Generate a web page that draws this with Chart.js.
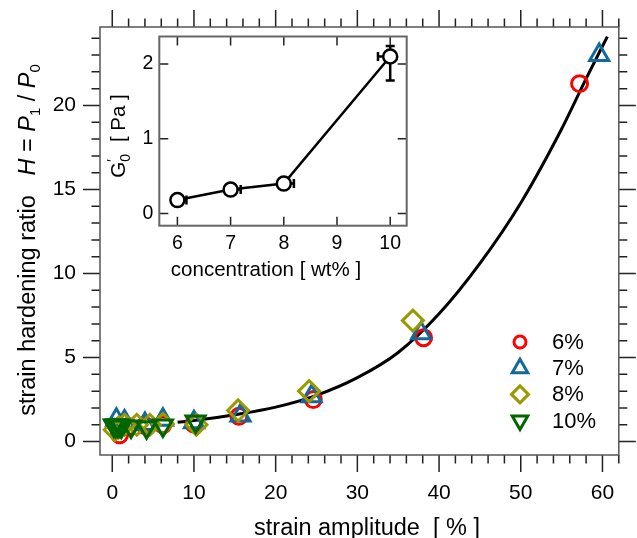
<!DOCTYPE html>
<html>
<head>
<meta charset="utf-8">
<script src="https://cdn.jsdelivr.net/npm/chart.js@4.4.1/dist/chart.umd.min.js"></script>
<style>
  body { margin: 0; background: #fff; }
  #wrap { position: relative; width: 637px; height: 538px; }
  #main { position: absolute; left: 0; top: 0; }
  #inset { position: absolute; left: 100px; top: 27px; }
</style>
</head>
<body>
<div id="wrap">
  <canvas id="main" width="637" height="538"></canvas>
  <canvas id="inset" width="320" height="260"></canvas>
</div>
<script>
// main plot: strain amplitude [%] vs strain hardening ratio
const xTickLabels = [0, 10, 20, 30, 40, 50, 60];
const yTickLabels = [0, 5, 10, 15, 20];
const seriesNames = ['6%', '7%', '8%', '10%'];

const strain6 = [0.9, 2.0, 4.0, 6.2, 10.0, 15.5, 24.6, 38.1, 57.2];
const ratio6 = [0.4, 0.9, 0.95, 1.0, 1.05, 1.5, 2.5, 6.18, 21.3];
const strain7 = [0.5, 1.5, 4.0, 6.2, 10.0, 15.7, 24.4, 37.8, 59.6];
const ratio7 = [1.3, 1.2, 1.05, 1.3, 1.15, 1.55, 2.7, 6.45, 23.0];
const strain8 = [0.3, 0.8, 1.5, 3.0, 4.6, 6.2, 10.3, 15.4, 24.1, 36.8];
const ratio8 = [0.7, 0.85, 1.0, 1.0, 1.0, 1.05, 1.0, 1.85, 3.0, 7.2];
const strain10 = [0.2, 0.4, 0.6, 0.8, 1.1, 2.3, 4.2, 6.2, 10.2];
const ratio10 = [0.95, 0.95, 0.95, 0.95, 0.9, 0.9, 0.85, 0.95, 1.2];

// fitted curve
const fitStrain = [8, 10, 15, 20, 25, 30, 35, 40, 45, 50, 55, 58, 60.6];
const fitRatio = [1.15, 1.25, 1.6, 2.05, 2.75, 3.8, 5.3, 7.6, 10.6, 14.2, 18.6, 21.6, 24.1];

// inset: G'0 vs concentration
const concentration = [6, 7, 8, 10];
const modulus = [0.18, 0.32, 0.40, 2.1];
const concErrPlus = [0.17, 0.19, 0.19, 0];
const concErrMinus = [0, 0, 0, 0.23];
const modErrPlus = [0, 0, 0, 0.14];
const modErrMinus = [0, 0, 0, 0.32];
const insetXTicks = [6, 7, 8, 9, 10];
const insetYTicks = [0, 1, 2];

const FONT = '"Liberation Sans", Arial, sans-serif';

function pairs(xs, ys) {
  return xs.map((x, i) => ({ x: x, y: ys[i] }));
}

// draw a line of text made of parts (italic, subscript...) centred on cx,cy
function drawRich(ctx, parts, cx, cy, rot) {
  ctx.save();
  ctx.translate(cx, cy);
  ctx.rotate(rot);
  ctx.fillStyle = '#000';
  ctx.textBaseline = 'alphabetic';
  ctx.textAlign = 'left';
  const fontOf = p => (p.italic ? 'italic ' : '') + p.size + 'px ' + FONT;
  let w = 0;
  parts.forEach(p => {
    ctx.font = fontOf(p);
    if (!p.stack) w += ctx.measureText(p.t).width;
  });
  let x = -w / 2;
  let last = 0;
  parts.forEach(p => {
    ctx.font = fontOf(p);
    const pw = ctx.measureText(p.t).width;
    if (p.stack) {
      ctx.fillText(p.t, x - last, p.dy || 0);
    } else {
      ctx.fillText(p.t, x, p.dy || 0);
      x += pw;
      last = pw;
    }
  });
  ctx.restore();
}

// box round the plot area with major and minor ticks on all four sides
const framePlugin = {
  id: 'frame',
  afterDraw(chart, args, opts) {
    const { ctx, chartArea: a, scales } = chart;
    const sx = scales.x, sy = scales.y;
    const dir = opts.inside ? -1 : 1;
    ctx.save();
    ctx.strokeStyle = opts.tickColor;
    ctx.lineWidth = opts.tickWidth;
    ctx.beginPath();
    const xt = (v, len) => {
      const p = sx.getPixelForValue(v);
      ctx.moveTo(p, a.bottom); ctx.lineTo(p, a.bottom + dir * len);
      ctx.moveTo(p, a.top); ctx.lineTo(p, a.top - dir * len);
    };
    const yt = (v, len) => {
      const p = sy.getPixelForValue(v);
      ctx.moveTo(a.left, p); ctx.lineTo(a.left - dir * len, p);
      ctx.moveTo(a.right, p); ctx.lineTo(a.right + dir * len, p);
    };
    opts.xMajor.forEach(v => xt(v, opts.majorLen));
    opts.yMajor.forEach(v => yt(v, opts.majorLen));
    if (opts.xMinorStep) {
      for (let v = Math.ceil(sx.min / opts.xMinorStep) * opts.xMinorStep; v <= sx.max + 1e-9; v += opts.xMinorStep) {
        if (!opts.xMajor.includes(Math.round(v * 100) / 100)) xt(v, opts.minorLen);
      }
    }
    if (opts.yMinorStep) {
      for (let v = Math.ceil(sy.min / opts.yMinorStep) * opts.yMinorStep; v <= sy.max + 1e-9; v += opts.yMinorStep) {
        if (!opts.yMajor.includes(Math.round(v * 100) / 100)) yt(v, opts.minorLen);
      }
    }
    ctx.stroke();
    ctx.strokeStyle = opts.frameColor;
    ctx.lineWidth = opts.frameWidth;
    ctx.strokeRect(a.left, a.top, a.right - a.left, a.bottom - a.top);
    ctx.restore();
  }
};

// axis titles
const titlePlugin = {
  id: 'titles',
  afterDraw(chart, args, opts) {
    opts.items.forEach(it => drawRich(chart.ctx, it.parts, it.x, it.y, it.rot || 0));
  }
};

// legend drawn inside the plot area
const keyPlugin = {
  id: 'key',
  afterDraw(chart, args, opts) {
    const ctx = chart.ctx;
    ctx.save();
    opts.order.forEach((di, row) => {
      const ds = chart.data.datasets[di];
      const y = opts.y + row * opts.gap;
      ctx.strokeStyle = ds.pointBorderColor;
      ctx.fillStyle = 'rgba(0,0,0,0)';
      ctx.lineWidth = ds.pointBorderWidth;
      Chart.helpers.drawPoint(ctx, {
        pointStyle: ds.pointStyle,
        rotation: ds.pointRotation || 0,
        radius: opts.radius[row],
        borderWidth: ds.pointBorderWidth
      }, opts.x, y);
      ctx.fillStyle = '#000';
      ctx.font = opts.size + 'px ' + FONT;
      ctx.textBaseline = 'middle';
      ctx.textAlign = 'left';
      ctx.fillText(ds.label, opts.textX, y + 1);
    });
    ctx.restore();
  }
};

// error bars for the inset
const errPlugin = {
  id: 'errbars',
  beforeDatasetsDraw(chart) {
    const { ctx, scales } = chart;
    const cap = 4.5;
    ctx.save();
    ctx.strokeStyle = '#000';
    ctx.lineWidth = 2.5;
    ctx.beginPath();
    concentration.forEach((c, i) => {
      const px = scales.x.getPixelForValue(c);
      const py = scales.y.getPixelForValue(modulus[i]);
      if (concErrPlus[i] || concErrMinus[i]) {
        const x1 = scales.x.getPixelForValue(c - concErrMinus[i]);
        const x2 = scales.x.getPixelForValue(c + concErrPlus[i]);
        ctx.moveTo(x1, py); ctx.lineTo(x2, py);
        if (concErrMinus[i]) { ctx.moveTo(x1, py - cap); ctx.lineTo(x1, py + cap); }
        if (concErrPlus[i]) { ctx.moveTo(x2, py - cap); ctx.lineTo(x2, py + cap); }
      }
      if (modErrPlus[i] || modErrMinus[i]) {
        const y1 = scales.y.getPixelForValue(modulus[i] - modErrMinus[i]);
        const y2 = scales.y.getPixelForValue(modulus[i] + modErrPlus[i]);
        ctx.moveTo(px, y1); ctx.lineTo(px, y2);
        if (modErrMinus[i]) { ctx.moveTo(px - cap, y1); ctx.lineTo(px + cap, y1); }
        if (modErrPlus[i]) { ctx.moveTo(px - cap, y2); ctx.lineTo(px + cap, y2); }
      }
    });
    ctx.stroke();
    ctx.restore();
  }
};

function markerSet(label, xs, ys, color, style, radius, rotation) {
  return {
    label: label,
    data: pairs(xs, ys),
    showLine: false,
    pointStyle: style,
    pointRotation: rotation || 0,
    pointRadius: radius,
    pointBorderWidth: 3,
    pointBorderColor: color,
    pointBackgroundColor: 'rgba(0,0,0,0)',
    borderColor: color,
    backgroundColor: 'rgba(0,0,0,0)'
  };
}

// fixed axis boxes, no extra padding for the end labels
function fixX(h) {
  return s => { s.height = h; s.paddingLeft = 0; s.paddingRight = 0; s.paddingTop = 0; s.paddingBottom = 0; };
}
function fixY(w) {
  return s => { s.width = w; s.paddingLeft = 0; s.paddingRight = 0; s.paddingTop = 0; s.paddingBottom = 0; };
}

const RED = '#ff0000', BLUE = '#12699e', OLIVE = '#9a9a00', GREEN = '#006600';

// dataset 0 is painted last, so green sits on top and the curve at the bottom
new Chart(document.getElementById('main'), {
  type: 'scatter',
  data: {
    datasets: [
      markerSet(seriesNames[3], strain10, ratio10, GREEN, 'triangle', 11, 180),
      markerSet(seriesNames[2], strain8, ratio8, OLIVE, 'rectRot', 10.5),
      markerSet(seriesNames[1], strain7, ratio7, BLUE, 'triangle', 11),
      markerSet(seriesNames[0], strain6, ratio6, RED, 'circle', 8),
      {
        label: 'fit',
        data: pairs(fitStrain, fitRatio),
        showLine: true,
        borderColor: '#000',
        borderWidth: 3,
        pointRadius: 0,
        cubicInterpolationMode: 'monotone'
      }
    ]
  },
  options: {
    responsive: false,
    animation: false,
    devicePixelRatio: 1,
    events: [],
    layout: { padding: { top: 27, right: 18.2, left: 0, bottom: 0 } },
    plugins: {
      legend: { display: false },
      tooltip: { enabled: false },
      frame: {
        inside: false, xMajor: xTickLabels, yMajor: yTickLabels,
        xMinorStep: 2, yMinorStep: 1, majorLen: 17, minorLen: 8.5,
        tickColor: '#222', tickWidth: 1.5, frameColor: '#555', frameWidth: 1.5
      },
      key: { order: [3, 2, 1, 0], x: 520, y: 342, gap: 26.2, textX: 552, size: 22, radius: [6, 9, 8.5, 9] },
      titles: {
        items: [
          { x: 367, y: 535, parts: [{ t: 'strain amplitude  [ % ]', size: 23.5 }] },
          {
            x: 35, y: 240, rot: -Math.PI / 2,
            parts: [
              { t: 'strain hardening ratio   ', size: 23.5 },
              { t: 'H', size: 23.5, italic: true },
              { t: ' = ', size: 23.5 },
              { t: 'P', size: 23.5, italic: true },
              { t: '1', size: 15, dy: 5 },
              { t: ' / ', size: 23.5 },
              { t: 'P', size: 23.5, italic: true },
              { t: '0', size: 15, dy: 5 }
            ]
          }
        ]
      }
    },
    scales: {
      x: {
        type: 'linear', min: -1.5, max: 62,
        grid: { display: false, drawTicks: false },
        border: { display: false },
        afterBuildTicks: s => { s.ticks = xTickLabels.map(v => ({ value: v })); },
        afterFit: fixX(83),
        ticks: { padding: 26, color: '#000', maxRotation: 0, autoSkip: false, font: { family: FONT, size: 21 } }
      },
      y: {
        type: 'linear', min: -0.8, max: 24.67,
        grid: { display: false, drawTicks: false },
        border: { display: false },
        afterBuildTicks: s => { s.ticks = yTickLabels.map(v => ({ value: v })); },
        afterFit: fixY(100),
        ticks: { padding: 24, color: '#000', autoSkip: false, font: { family: FONT, size: 21 } }
      }
    }
  },
  plugins: [framePlugin, keyPlugin, titlePlugin]
});

new Chart(document.getElementById('inset'), {
  type: 'scatter',
  data: {
    datasets: [{
      label: "G'0",
      data: pairs(concentration, modulus),
      showLine: true,
      borderColor: '#000',
      borderWidth: 2.5,
      pointStyle: 'circle',
      pointRadius: 7,
      pointBorderWidth: 2.5,
      pointBorderColor: '#000',
      pointBackgroundColor: '#fff'
    }]
  },
  options: {
    responsive: false,
    animation: false,
    devicePixelRatio: 1,
    events: [],
    layout: { padding: { top: 6.3, right: 13.3, left: 0, bottom: 0 } },
    plugins: {
      legend: { display: false },
      tooltip: { enabled: false },
      frame: {
        inside: true, xMajor: insetXTicks, yMajor: insetYTicks,
        majorLen: 9, tickColor: '#222', tickWidth: 1.5, frameColor: '#666', frameWidth: 2
      },
      titles: {
        items: [
          { x: 166, y: 249, parts: [{ t: 'concentration [ wt% ]', size: 20.5 }] },
          {
            x: 25, y: 109, rot: -Math.PI / 2,
            parts: [
              { t: 'G', size: 20.5 },
              { t: '\u2032', size: 14, dy: -8 },
              { t: '0', size: 14, dy: 5, stack: true },
              { t: '   [ Pa ]', size: 20.5 }
            ]
          }
        ]
      }
    },
    scales: {
      x: {
        type: 'linear', min: 5.66, max: 10.31,
        grid: { display: false, drawTicks: false },
        border: { display: false },
        afterBuildTicks: s => { s.ticks = insetXTicks.map(v => ({ value: v })); },
        afterFit: fixX(61.3),
        ticks: { padding: 6, color: '#000', maxRotation: 0, autoSkip: false, font: { family: FONT, size: 19.5 } }
      },
      y: {
        type: 'linear', min: -0.163, max: 2.368,
        grid: { display: false, drawTicks: false },
        border: { display: false },
        afterBuildTicks: s => { s.ticks = insetYTicks.map(v => ({ value: v })); },
        afterFit: fixY(59.3),
        ticks: { padding: 6, color: '#000', autoSkip: false, font: { family: FONT, size: 19.5 } }
      }
    }
  },
  plugins: [errPlugin, framePlugin, titlePlugin]
});
</script>
</body>
</html>
